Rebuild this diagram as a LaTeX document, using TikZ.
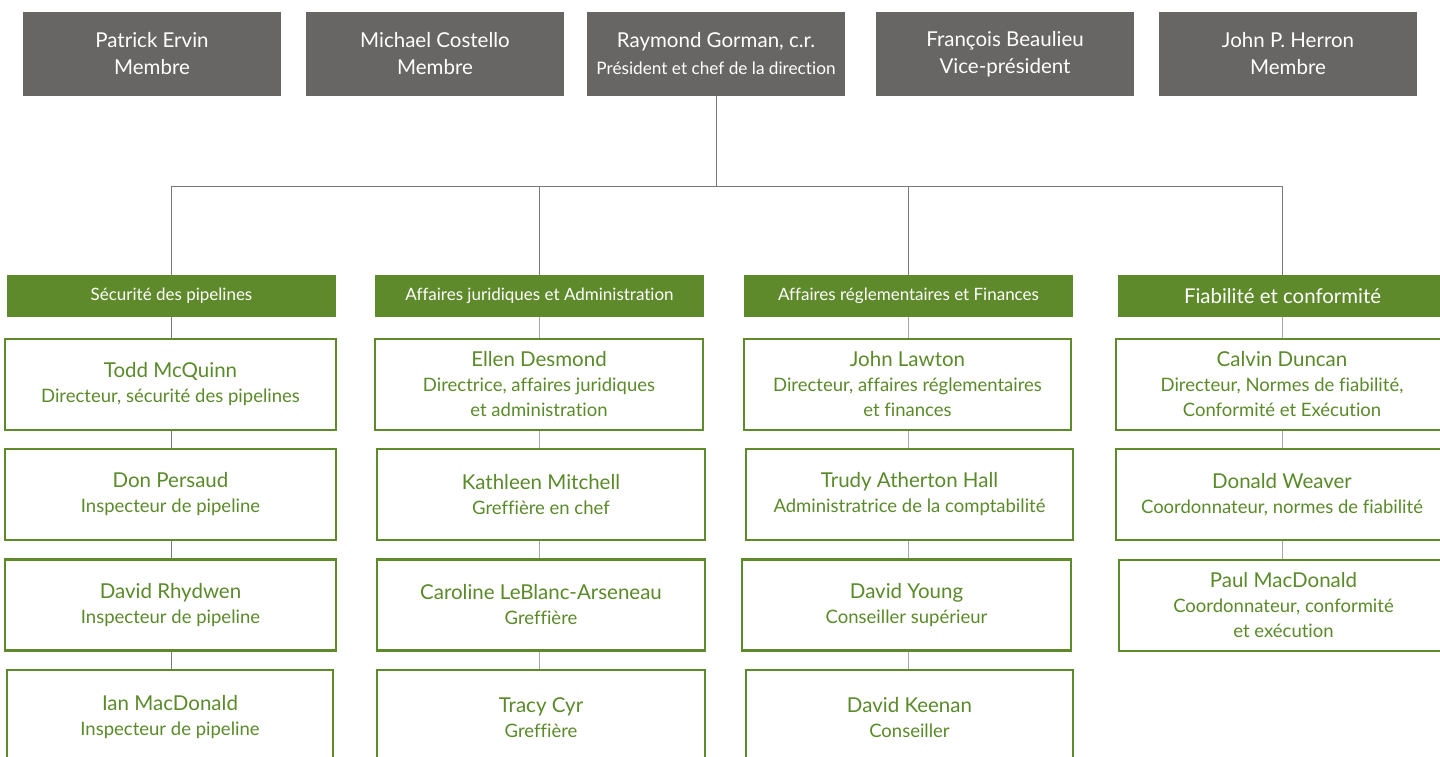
\documentclass[tikz,border=0pt]{standalone}
\usepackage{fontspec}
\setmainfont{Lato}[Ligatures=NoCommon]
\definecolor{boardgray}{HTML}{686664}
\definecolor{leafgreen}{HTML}{5F8A2B}
\definecolor{txtgreen}{HTML}{5A8A2A}
\definecolor{linegray}{HTML}{7A7A7A}
\definecolor{linelight}{HTML}{A8A8A8}
\newcommand{\nm}[1]{{\fontsize{20.5}{25}\selectfont #1}}
\begin{document}
\begin{tikzpicture}[x=1pt,y=-1pt,
  board/.style={fill=boardgray,draw=none,minimum width=258pt,minimum height=84pt,inner sep=0pt,
    text=white,align=center,font=\fontsize{20.5}{27}\selectfont},
  dept/.style={fill=leafgreen,draw=none,minimum width=329pt,minimum height=42pt,inner sep=0pt,
    text=white,align=center,font=\fontsize{17}{20}\selectfont},
  person/.style={draw=leafgreen,line width=2.6pt,fill=white,minimum height=91pt,inner sep=0pt,
    text=txtgreen,align=center,font=\fontsize{18.5}{25}\selectfont},
  link/.style={draw=linelight,line width=1pt},
  darklink/.style={draw=linegray,line width=1pt}]
\useasboundingbox (0,0) rectangle (1440,757);
\clip (0,0) rectangle (1440,757);
\fill[white] (0,0) rectangle (1440,757);

% board
\node[board] (pe) at (152,54) {Patrick Ervin\\Membre};
\node[board] (mc) at (435,54) {Michael Costello\\Membre};
\node[board] (rg) at (716,54) {Raymond Gorman, c.r.\\{\fontsize{17.2}{20}\selectfont Président et chef de la direction}};
\node[board] (fb) at (1005,54) {François Beaulieu\\Vice-président};
\node[board] (jh) at (1288,54) {John P. Herron\\Membre};

% departments
\node[dept] (d1) at (171.5,296) {Sécurité des pipelines};
\node[dept] (d2) at (539.5,296) {Affaires juridiques et Administration};
\node[dept] (d3) at (908.5,296) {Affaires réglementaires et Finances};
\node[dept,font=\fontsize{20.4}{22}\selectfont] (d4) at (1282.5,296) {Fiabilité et conformité};

\coordinate (bus) at (0,186);
\draw[darklink] (rg.south) -- (rg.south |- bus) -| (d1.north);
\draw[darklink] (rg.south) -- (rg.south |- bus) -| (d2.north);
\draw[darklink] (rg.south) -- (rg.south |- bus) -| (d3.north);
\draw[darklink] (rg.south) -- (rg.south |- bus) -| (d4.north);

% column 1
\node[person,minimum width=331pt] (a1) at (170.5,384.5) {\nm{Todd McQuinn}\\Directeur, sécurité des pipelines};
\node[person,minimum width=331pt] (a2) at (170.5,494.5) {\nm{Don Persaud}\\Inspecteur de pipeline};
\node[person,minimum width=331pt] (a3) at (170.5,605) {\nm{David Rhydwen}\\Inspecteur de pipeline};
\node[person,minimum width=326pt,minimum height=95pt] (a4) at (170,717.5) {\nm{Ian MacDonald}\\Inspecteur de pipeline};

% column 2
\node[person,minimum width=328pt] (b1) at (539,384.5) {\nm{Ellen Desmond}\\Directrice, affaires juridiques\\et administration};
\node[person,minimum width=328pt] (b2) at (541,494.5) {\nm{Kathleen Mitchell}\\Greffière en chef};
\node[person,minimum width=328pt] (b3) at (541,605) {\nm{Caroline LeBlanc-Arseneau}\\Greffière};
\node[person,minimum width=328pt,minimum height=95pt] (b4) at (541,717.5) {\nm{Tracy Cyr}\\Greffière};

% column 3
\node[person,minimum width=327pt] (c1) at (907.5,384.5) {\nm{John Lawton}\\Directeur, affaires réglementaires\\et finances};
\node[person,minimum width=327pt] (c2) at (909.5,494.5) {\nm{Trudy Atherton Hall}\\Administratrice de la comptabilité};
\node[person,minimum width=329pt] (c3) at (906.5,605) {\nm{David Young}\\Conseiller supérieur};
\node[person,minimum width=327pt,minimum height=95pt] (c4) at (909.5,717.5) {\nm{David Keenan}\\Conseiller};

% column 4
\node[person,minimum width=332pt] (e1) at (1282,384.5) {\nm{Calvin Duncan}\\Directeur, Normes de fiabilité,\\Conformité et Exécution};
\node[person,minimum width=332pt] (e2) at (1282,494.5) {\nm{Donald Weaver}\\Coordonnateur, normes de fiabilité};
\node[person,minimum width=329pt] (e3) at (1283.5,605.5) {\nm{Paul MacDonald}\\Coordonnateur, conformité\\et exécution};

% vertical links
\draw[darklink] (d1.south) -- (d1.south |- a1.north);
\draw[darklink] (d1.south |- a1.south) -- (d1.south |- a2.north);
\draw[darklink] (d1.south |- a2.south) -- (d1.south |- a3.north);
\draw[darklink] (d1.south |- a3.south) -- (d1.south |- a4.north);
\draw[link] (d2.south) -- (d2.south |- b1.north);
\draw[link] (d2.south |- b1.south) -- (d2.south |- b2.north);
\draw[link] (d2.south |- b2.south) -- (d2.south |- b3.north);
\draw[link] (d2.south |- b3.south) -- (d2.south |- b4.north);
\draw[link] (d3.south) -- (d3.south |- c1.north);
\draw[link] (d3.south |- c1.south) -- (d3.south |- c2.north);
\draw[link] (d3.south |- c2.south) -- (d3.south |- c3.north);
\draw[link] (d3.south |- c3.south) -- (d3.south |- c4.north);
\draw[link] (d4.south) -- (d4.south |- e1.north);
\draw[link] (d4.south |- e1.south) -- (d4.south |- e2.north);
\draw[link] (d4.south |- e2.south) -- (d4.south |- e3.north);
\end{tikzpicture}
\end{document}
